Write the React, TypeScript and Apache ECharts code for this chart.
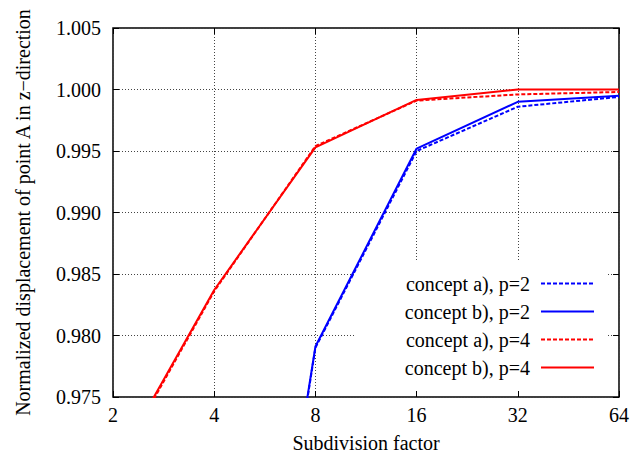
import React, { useEffect, useRef } from "react";
import * as echarts from "echarts";

// Subdivision factors (log2 x axis)
const subdivision = [2, 4, 8, 16, 32, 64];

// Normalized z-displacement of point A
const conceptA_p2 = [null, 0.9265, 0.979, 0.995, 0.9986, 0.9994];
const conceptB_p2 = [null, 0.927, 0.9791, 0.9952, 0.999, 0.9995];
const conceptA_p4 = [0.9689, 0.9836, 0.9954, 0.9991, 0.9996, 0.9998];
const conceptB_p4 = [0.9691, 0.9837, 0.9953, 0.99915, 1.0, 1.0];

const seriesNames = [
  "concept a), p=2",
  "concept b), p=2",
  "concept a), p=4",
  "concept b), p=4",
];

const FONT = "Liberation Serif";
const FS = 20;

const pairs = (ys: (number | null)[]) =>
  subdivision
    .map((x, i) => [x, ys[i]])
    .filter((p) => p[1] !== null);

export default function App() {
  const ref = useRef<HTMLDivElement>(null);

  useEffect(() => {
    if (!ref.current) return;
    const chart = echarts.init(ref.current, undefined, { renderer: "svg" });

    const dashed = [4, 2];
    const mk = (name: string, data: any, color: string, type: any) => ({
      name,
      type: "line",
      data,
      xAxisIndex: 0,
      yAxisIndex: 0,
      symbol: "none",
      showSymbol: false,
      clip: true,
      lineStyle: { color, width: 2, type },
      itemStyle: { color },
      z: 3,
    });

    const legendRows = [273.5, 301.5, 329.5, 357.5];

    const textBase = { fontFamily: FONT, fontSize: FS, color: "#000" };

    const xTickAxis = (position: string, show: boolean) => ({
      type: "log",
      logBase: 2,
      min: 2,
      max: 64,
      position,
      gridIndex: 0,
      axisLine: { show: false },
      axisTick: {
        show: true,
        inside: true,
        length: 6,
        lineStyle: { color: "#000", width: 1 },
      },
      axisLabel: {
        show,
        margin: 8,
        ...textBase,
        formatter: (v: number) => String(Math.round(v)),
      },
      splitLine: {
        show,
        lineStyle: { color: "#444", width: 1, type: [1, 2] },
      },
      minorTick: { show: false },
      ...(show
        ? {
            name: "Subdivision factor",
            nameLocation: "middle",
            nameGap: 36,
            nameTextStyle: textBase,
          }
        : {}),
    });

    const yTickAxis = (position: string, show: boolean) => ({
      type: "value",
      min: 0.975,
      max: 1.005,
      interval: 0.005,
      position,
      gridIndex: 0,
      axisLine: { show: false },
      axisTick: {
        show: true,
        inside: true,
        length: 6,
        lineStyle: { color: "#000", width: 1 },
      },
      axisLabel: {
        show,
        margin: 12,
        ...textBase,
        formatter: (v: number) => v.toFixed(3),
      },
      splitLine: {
        show,
        lineStyle: { color: "#444", width: 1, type: [1, 2] },
      },
      ...(show
        ? {
            name: "Normalized displacement of point A in z\u2212direction",
            nameLocation: "middle",
            nameGap: 80,
            nameTextStyle: textBase,
          }
        : {}),
    });

    chart.setOption({
      animation: false,
      backgroundColor: "#fff",
      textStyle: { fontFamily: FONT },
      grid: {
        left: 113,
        right: 13,
        top: 28,
        bottom: 64,
        show: true,
        borderColor: "#000",
        borderWidth: 1.5,
        backgroundColor: "transparent",
      },
      xAxis: [xTickAxis("bottom", true), xTickAxis("top", false)],
      yAxis: [yTickAxis("left", true), yTickAxis("right", false)],
      legend: seriesNames.map((name, i) => ({
        data: [name],
        orient: "vertical",
        align: "right",
        right: 37,
        top: legendRows[i],
        padding: 0,
        itemWidth: 53,
        itemHeight: 14,
        selectedMode: false,
        itemStyle: { opacity: 0 },
        textStyle: {
          ...textBase,
          lineHeight: 20,
          padding: [0, 6, 0, 0],
        },
        z: 4,
      })),
      graphic: [
        {
          type: "rect",
          shape: { x: 354, y: 261, width: 252, height: 130 },
          style: { fill: "#fff" },
          z: 1,
          silent: true,
        },
      ],
      series: [
        mk(seriesNames[0], pairs(conceptA_p2), "#0000ff", dashed),
        mk(seriesNames[1], pairs(conceptB_p2), "#0000ff", "solid"),
        mk(seriesNames[2], pairs(conceptA_p4), "#ff0000", dashed),
        mk(seriesNames[3], pairs(conceptB_p4), "#ff0000", "solid"),
      ],
    });

    return () => chart.dispose();
  }, []);

  return (
    <div
      ref={ref}
      style={{ position: "absolute", left: 0, top: 0, width: 632, height: 461 }}
    />
  );
}
